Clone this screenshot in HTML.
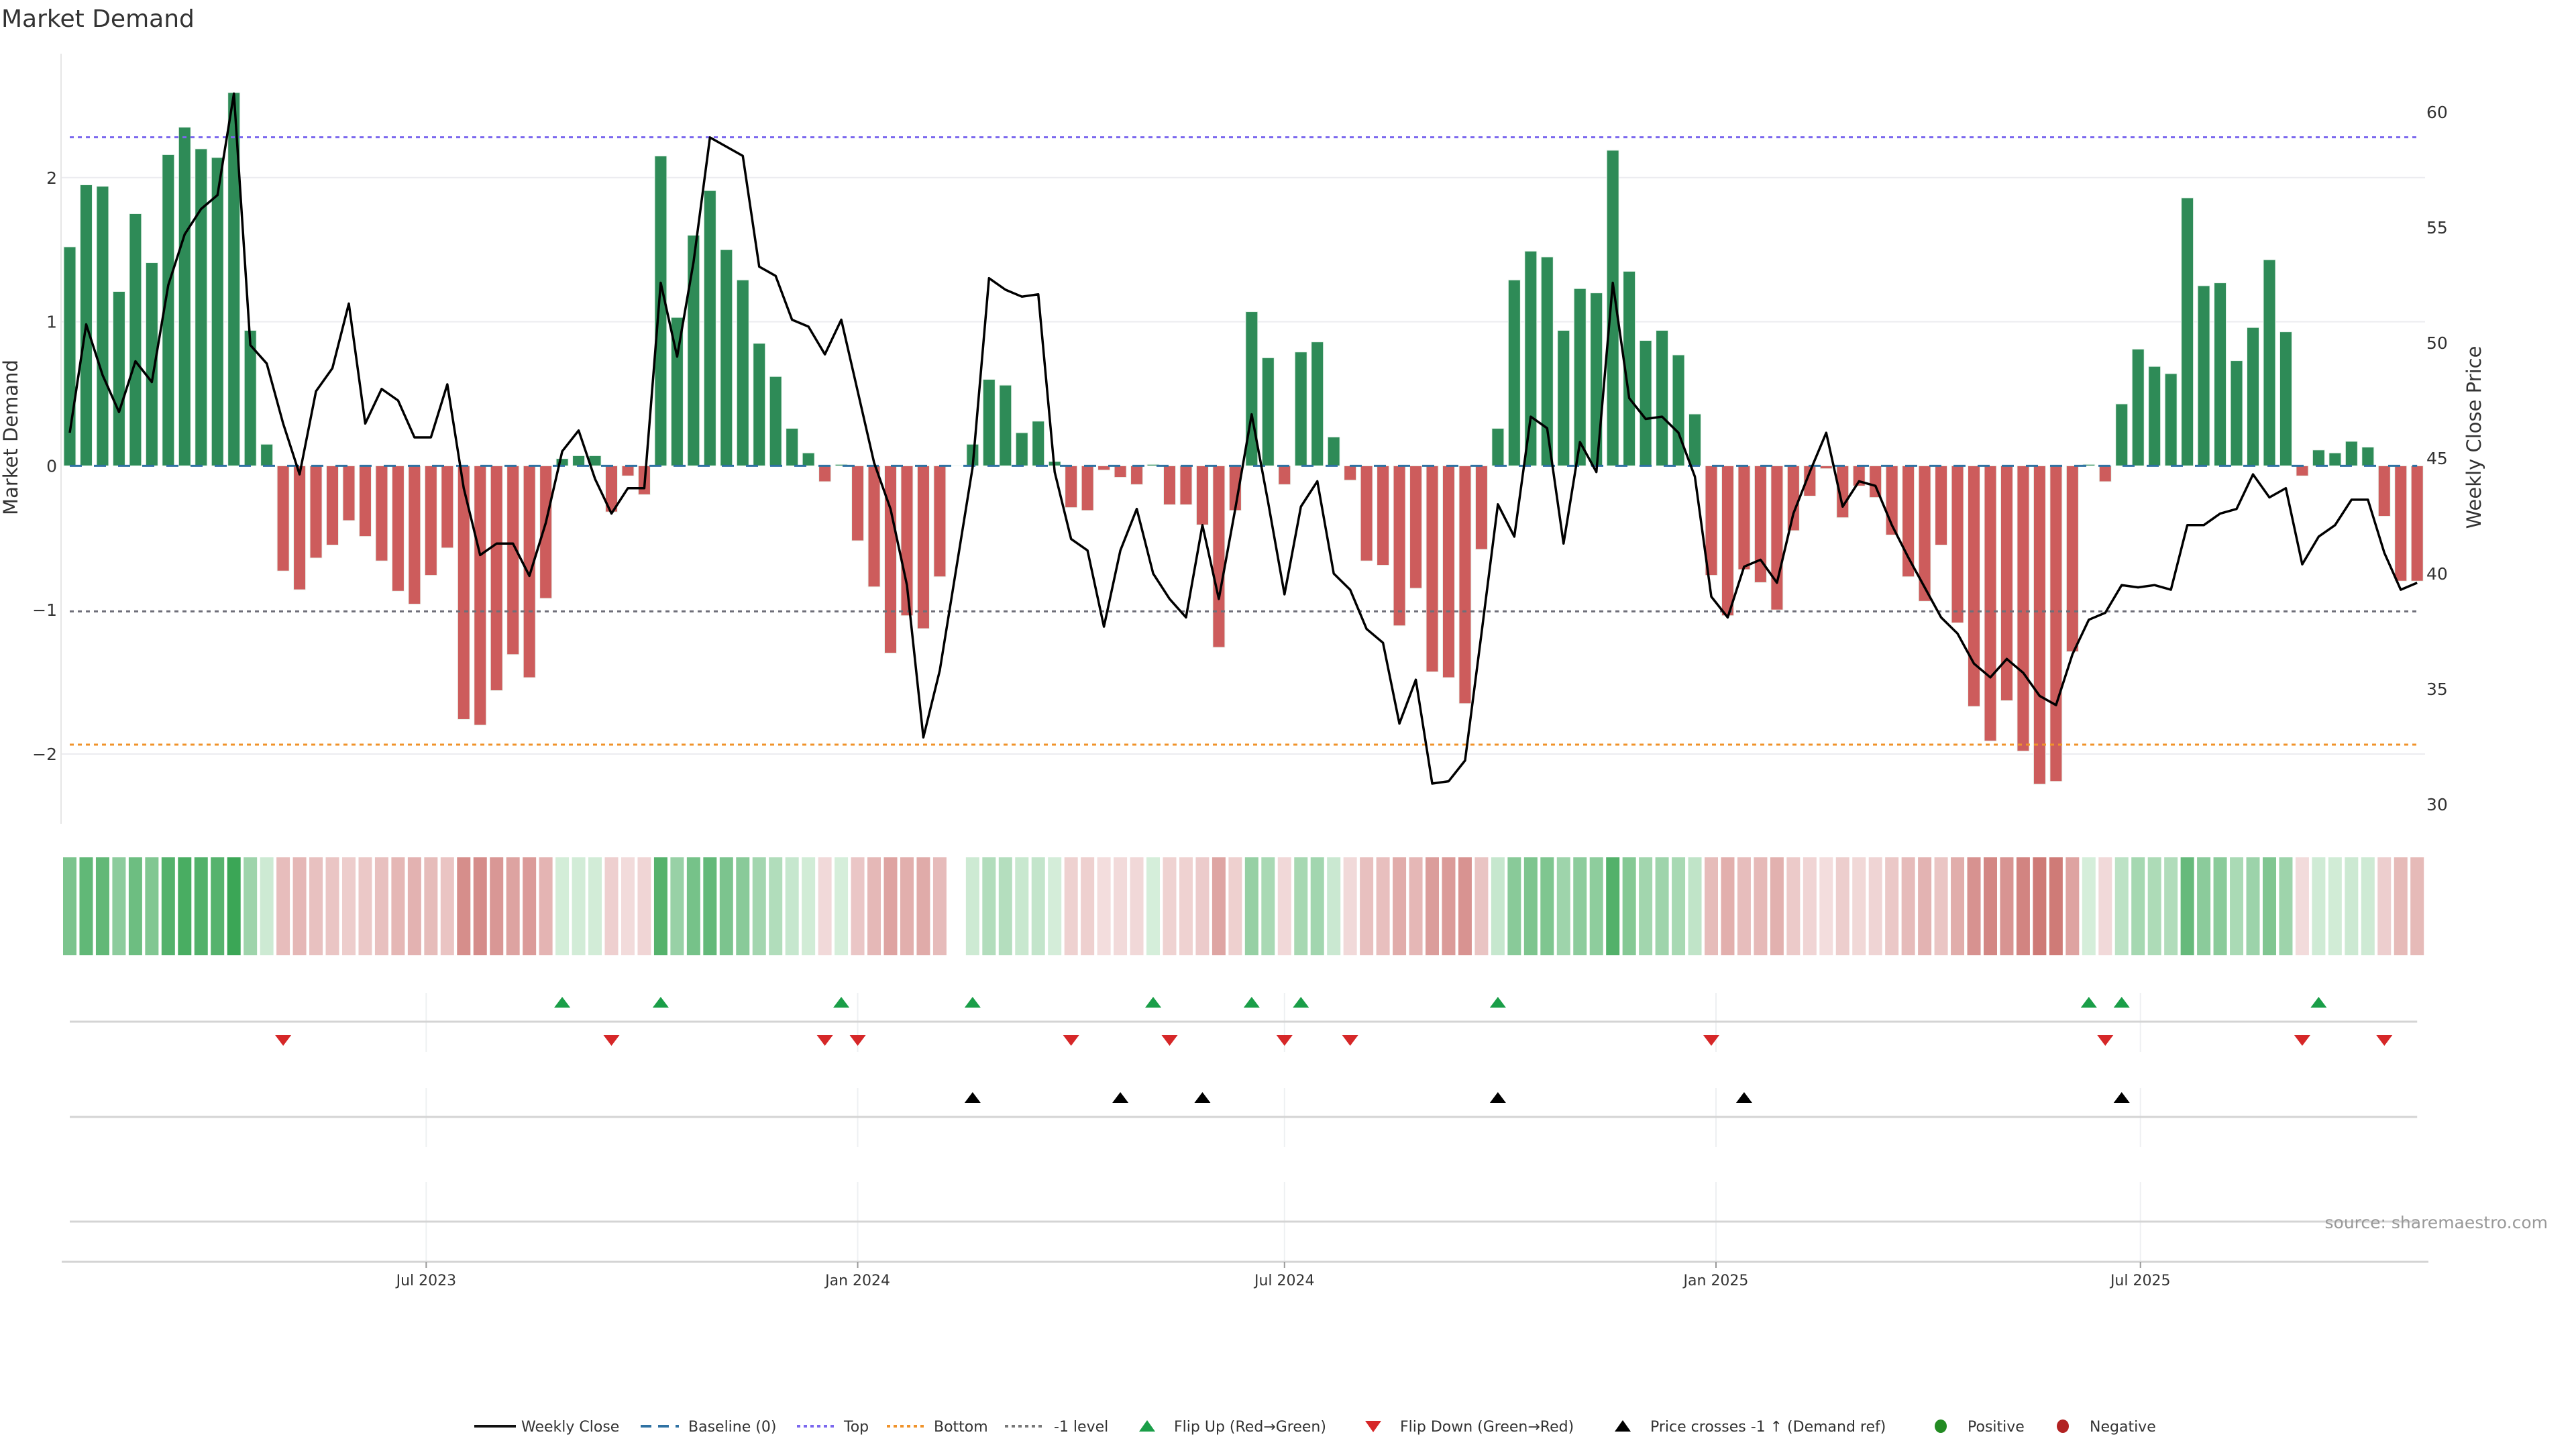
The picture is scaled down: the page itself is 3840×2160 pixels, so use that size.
<!DOCTYPE html>
<html><head><meta charset="utf-8"><title>Market Demand</title>
<style>
html,body{margin:0;padding:0;background:#fff;}
svg{display:block;font-family:"DejaVu Sans","Liberation Sans",sans-serif;}
</style></head>
<body>
<svg id="chart" xmlns="http://www.w3.org/2000/svg" width="3840" height="2160" viewBox="0 0 3840 2160">
<rect x="0" y="0" width="3840" height="2160" fill="#fff"/>
<text x="2" y="40" font-size="36" fill="#333">Market Demand</text>
<g id="grid"></g><g id="refs"></g><g id="bars"></g><g id="line"></g><g id="axes"></g>
<g id="heat"></g><g id="markers"></g><g id="xaxis"></g><g id="legend"></g>
<text x="3798" y="1831" font-size="25" fill="#999" text-anchor="end">source: sharemaestro.com</text>
</svg>
<script>
const demand=[1.52,1.95,1.94,1.21,1.75,1.41,2.16,2.35,2.20,2.14,2.59,0.94,0.15,-0.73,-0.86,-0.64,-0.55,-0.38,-0.49,-0.66,-0.87,-0.96,-0.76,-0.57,-1.76,-1.80,-1.56,-1.31,-1.47,-0.92,0.05,0.07,0.07,-0.32,-0.07,-0.20,2.15,1.03,1.60,1.91,1.50,1.29,0.85,0.62,0.26,0.09,-0.11,0.01,-0.52,-0.84,-1.30,-1.04,-1.13,-0.77,0,0.15,0.60,0.56,0.23,0.31,0.03,-0.29,-0.31,-0.03,-0.08,-0.13,0.01,-0.27,-0.27,-0.41,-1.26,-0.31,1.07,0.75,-0.13,0.79,0.86,0.20,-0.10,-0.66,-0.69,-1.11,-0.85,-1.43,-1.47,-1.65,-0.58,0.26,1.29,1.49,1.45,0.94,1.23,1.20,2.19,1.35,0.87,0.94,0.77,0.36,-0.76,-1.04,-0.72,-0.81,-1.00,-0.45,-0.21,-0.02,-0.36,-0.14,-0.22,-0.48,-0.77,-0.94,-0.55,-1.09,-1.67,-1.91,-1.63,-1.98,-2.21,-2.19,-1.29,0.01,-0.11,0.43,0.81,0.69,0.64,1.86,1.25,1.27,0.73,0.96,1.43,0.93,-0.07,0.11,0.09,0.17,0.13,-0.35,-0.80,-0.80];
const closes=[46.1,50.8,48.6,47.0,49.2,48.3,52.5,54.7,55.8,56.4,60.8,49.9,49.1,46.5,44.3,47.9,48.9,51.7,46.5,48.0,47.5,45.9,45.9,48.2,43.7,40.8,41.3,41.3,39.9,42.2,45.3,46.2,44.1,42.6,43.7,43.7,52.6,49.4,53.5,58.9,58.5,58.1,53.3,52.9,51.0,50.7,49.5,51.0,47.9,44.8,42.8,39.5,32.9,35.8,40.2,44.6,52.8,52.3,52.0,52.1,44.4,41.5,41.0,37.7,41.0,42.8,40.0,38.9,38.1,42.1,38.9,42.8,46.9,43.1,39.1,42.9,44.0,40.0,39.3,37.6,37.0,33.5,35.4,30.9,31.0,31.9,37.4,43.0,41.6,46.8,46.3,41.3,45.7,44.4,52.6,47.6,46.7,46.8,46.1,44.2,39.0,38.1,40.3,40.6,39.6,42.6,44.4,46.1,42.9,44.0,43.8,42.1,40.7,39.4,38.1,37.4,36.1,35.5,36.3,35.7,34.7,34.3,36.5,38.0,38.3,39.5,39.4,39.5,39.3,42.1,42.1,42.6,42.8,44.3,43.3,43.7,40.4,41.6,42.1,43.2,43.2,40.9,39.3,39.6];
const flipUp=[30,36,47,55,66,72,75,87,123,125,137];
const flipDown=[13,33,46,48,61,67,74,78,100,124,136,141];
const priceCross=[55,64,69,87,102,125];
const leftTicks=[-2,-1,0,1,2];
const rightTicks=[30,35,40,45,50,55,60];
const xTickLabels=["Jul 2023","Jan 2024","Jul 2024","Jan 2025","Jul 2025"];
const xTickDates=["2023-07-01","2024-01-01","2024-07-01","2025-01-01","2025-07-01"];
const startDate="2023-01-30";
const topLevel=2.28, bottomLevel=-1.935, minusOneLevel=-1.01;

const NS="http://www.w3.org/2000/svg";
function mk(tag,attrs,parent){const e=document.createElementNS(NS,tag);for(const k in attrs)e.setAttribute(k,attrs[k]);parent.appendChild(e);return e;}
const STEP=24.47, X0=104;
const xI=i=>X0+i*STEP;
const xD=d=>xI((new Date(d)-new Date(startDate))/86400000/7);
const yL=v=>694.4-v*214.8;
const yR=p=>167+(60-p)*34.4;
const g=id=>document.getElementById(id);
const X1=xI(demand.length-1);

[-2,1,2].forEach(v=>{const l=mk('line',{x1:91,x2:3615,y1:yL(v),y2:yL(v),stroke:'#ececf0','stroke-width':2},g('grid'));

});

function ref(v,color,dash,name){const l=mk('line',{x1:X0,x2:X1,y1:yL(v),y2:yL(v),stroke:color,'stroke-width':3,'stroke-dasharray':dash},g('refs'));

}
ref(topLevel,'#7b68ee','6 6','top-line');
ref(bottomLevel,'#f0932b','6 6','bottom-line');
ref(minusOneLevel,'#6e6e78','6 6','minus-one-level-line');

demand.forEach((v,i)=>{const y0=yL(0),y=yL(v);
const r=mk('rect',{x:xI(i)-9,y:Math.min(y0,y),width:18,height:Math.max(Math.abs(y-y0),0.01),fill:v>=0?'#2e8b57':'#cd5c5c',stroke:'#eaf5ee','stroke-width':1},g('bars'));

});
const base=mk('line',{x1:X0,x2:X1,y1:yL(0),y2:yL(0),stroke:'#2f72a3','stroke-width':3,'stroke-dasharray':'18 18'},g('refs'));


g('refs').parentNode.insertBefore(g('refs'),g('line'));

const pl=mk('polyline',{points:closes.map((p,i)=>xI(i)+','+yR(p)).join(' '),fill:'none',stroke:'#000','stroke-width':3.5,'stroke-linejoin':'round'},g('line'));



const ax=mk('line',{x1:91,x2:91,y1:80,y2:1228,stroke:'#e6e6e6','stroke-width':2},g('axes'));


leftTicks.forEach(v=>{const t=mk('text',{x:85,y:yL(v)+9,'font-size':25,fill:'#333','text-anchor':'end'},g('axes'));t.textContent=(v<0?'\u2212':'')+Math.abs(v);

});
rightTicks.forEach(v=>{const t=mk('text',{x:3617,y:yR(v)+9,'font-size':25,fill:'#333'},g('axes'));t.textContent=v;

});
let t=mk('text',{x:0,y:0,'font-size':29,fill:'#333','text-anchor':'middle',transform:'translate(26,652) rotate(-90)'},g('axes'));t.textContent='Market Demand';


t=mk('text',{x:0,y:0,'font-size':29,fill:'#333','text-anchor':'middle',transform:'translate(3698,652) rotate(-90)'},g('axes'));t.textContent='Weekly Close Price';



function mix(a,b,t){return 'rgb('+a.map((c,k)=>Math.round(c+(b[k]-c)*t)).join(',')+')';}
demand.forEach((v,i)=>{if(v===0)return;const tt=Math.min(Math.abs(v)/2.6,1);
const col=v>0?mix([214,238,219],[58,166,85],tt):mix([243,222,222],[200,104,100],tt);
const r=mk('rect',{x:xI(i)-10,y:1278,width:20,height:146,fill:col},g('heat'));

});

xTickDates.forEach((d,k)=>{[[1480,1568],[1622,1710],[1762,1881]].forEach(([a,b])=>{const l=mk('line',{x1:xD(d),x2:xD(d),y1:a,y2:b,stroke:'#eef0f2','stroke-width':2},g('markers'));

});});
[1523,1665,1821].forEach(y=>{const l=mk('line',{x1:X0,x2:X1,y1:y,y2:y,stroke:'#d4d4d4','stroke-width':3},g('markers'));

});
function tri(cx,cy,up,color,name){const h=16,w=12;const pts=up?`${cx-w},${cy+h/2} ${cx+w},${cy+h/2} ${cx},${cy-h/2}`:`${cx-w},${cy-h/2} ${cx+w},${cy-h/2} ${cx},${cy+h/2}`;
const p=mk('polygon',{points:pts,fill:color},g('markers'));

}
flipUp.forEach(i=>tri(xI(i),1494,true,'#1a9e48','flip-up-marker'));
flipDown.forEach(i=>tri(xI(i),1551,false,'#d62728','flip-down-marker'));
priceCross.forEach(i=>tri(xI(i),1636,true,'#000','price-cross-marker'));

const xa=mk('line',{x1:92,x2:3620,y1:1881,y2:1881,stroke:'#d4d4d4','stroke-width':3},g('xaxis'));


xTickDates.forEach((d,k)=>{const x=xD(d);mk('line',{x1:x,x2:x,y1:1881,y2:1890,stroke:'#999','stroke-width':2},g('xaxis'));
const tx=mk('text',{x:x,y:1916,'font-size':22,fill:'#333','text-anchor':'middle'},g('xaxis'));tx.textContent=xTickLabels[k];

});

const L=g('legend');const ly=2126;
function ltext(x,s,name){const e=mk('text',{x:x,y:ly+8,'font-size':22,fill:'#333'},L);e.textContent=s;

}
mk('line',{x1:707,x2:769,y1:ly,y2:ly,stroke:'#111','stroke-width':4},L);ltext(777,'Weekly Close','legend-weekly-close');
mk('line',{x1:955,x2:1012,y1:ly,y2:ly,stroke:'#2f72a3','stroke-width':4,'stroke-dasharray':'16 10'},L);ltext(1026,'Baseline (0)','legend-baseline');
mk('line',{x1:1188,x2:1244,y1:ly,y2:ly,stroke:'#7b68ee','stroke-width':4,'stroke-dasharray':'5 5'},L);ltext(1258,'Top','legend-top');
mk('line',{x1:1322,x2:1378,y1:ly,y2:ly,stroke:'#f0932b','stroke-width':4,'stroke-dasharray':'5 5'},L);ltext(1392,'Bottom','legend-bottom');
mk('line',{x1:1498,x2:1555,y1:ly,y2:ly,stroke:'#777','stroke-width':4,'stroke-dasharray':'5 5'},L);ltext(1571,'-1 level','legend-minus-one');
mk('polygon',{points:`1698,${ly+8} 1722,${ly+8} 1710,${ly-9}`,fill:'#1a9e48'},L);ltext(1750,'Flip Up (Red\u2192Green)','legend-flip-up');
mk('polygon',{points:`2035,${ly-8} 2059,${ly-8} 2047,${ly+9}`,fill:'#d62728'},L);ltext(2087,'Flip Down (Green\u2192Red)','legend-flip-down');
mk('polygon',{points:`2407,${ly+8} 2431,${ly+8} 2419,${ly-9}`,fill:'#000'},L);ltext(2460,'Price crosses -1 \u2191 (Demand ref)','legend-price-cross');
mk('ellipse',{cx:2893,cy:ly,rx:9,ry:10,fill:'#228b22'},L);ltext(2933,'Positive','legend-positive');
mk('ellipse',{cx:3075,cy:ly,rx:9,ry:10,fill:'#b22222'},L);ltext(3115,'Negative','legend-negative');
</script>
</body></html>
